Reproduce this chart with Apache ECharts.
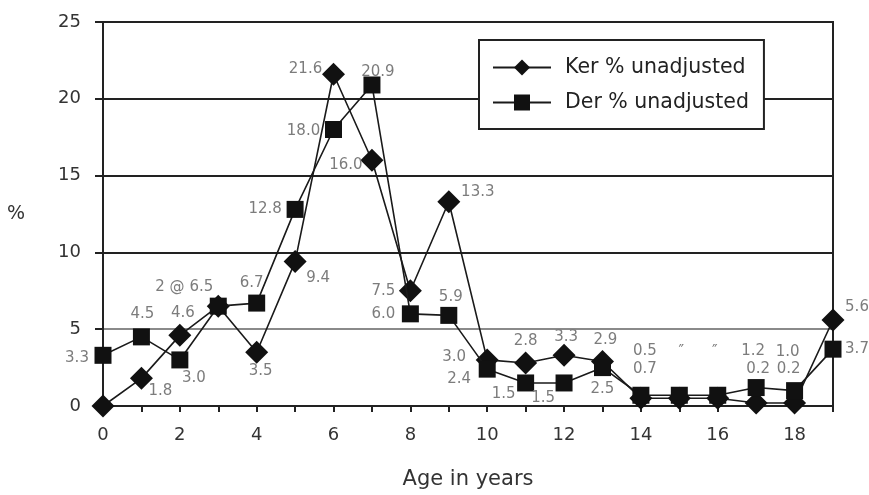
<!DOCTYPE html>
<html>
<head>
<meta charset="utf-8">
<script src="https://cdn.jsdelivr.net/npm/echarts@6/dist/echarts.min.js"></script>
<style>
html,body{margin:0;padding:0;background:#fff;}
#chart{width:869px;height:495px;}
</style>
</head>
<body>
<div id="chart"></div>
<script>
// ---- data ----
var ages = [0,1,2,3,4,5,6,7,8,9,10,11,12,13,14,15,16,17,18,19];
var kerValues = [0,1.8,4.6,6.5,3.5,9.4,21.6,16.0,7.5,13.3,3.0,2.8,3.3,2.9,0.5,0.5,0.5,0.2,0.2,5.6];
var derValues = [3.3,4.5,3.0,6.5,6.7,12.8,18.0,20.9,6.0,5.9,2.4,1.5,1.5,2.5,0.7,0.7,0.7,1.2,1.0,3.7];
var kerLabels = ['','1.8','4.6','','3.5','9.4','21.6','16.0','7.5','13.3','3.0','2.8','3.3','2.9','0.5','\u2033','\u2033','0.2','0.2','5.6'];
var derLabels = ['3.3','4.5','3.0','2 @ 6.5','6.7','12.8','18.0','20.9','6.0','5.9','2.4','1.5','1.5','2.5','0.7','','','1.2','1.0','3.7'];
var xTickLabels = ['0','2','4','6','8','10','12','14','16','18'];
var yTickLabels = ['0','5','10','15','20','25'];
var seriesNames = ['Ker % unadjusted','Der % unadjusted'];

// ---- label placement (style only) ----
var kerOffsets = [[0,0],[19,13],[3,-22],[0,0],[4,19],[23,16],[-28,-5],[-26,5],[-27,0],[29,-10],
  [-33,-3],[0,-22],[2,-18],[3,-21],[4,-47],[2,-46],[-3,-46],[2,-34],[-6,-34],[24,-13]];
var derOffsets = [[-26,3],[1,-23],[14,18],[-34,-19],[-5,-20],[-30,0],[-30,2],[6,-13],[-27,0],[2,-18],
  [-28,10],[-22,11],[-21,15],[0,22],[4,-26],[0,0],[0,0],[-3,-36],[-7,-39],[24,0]];

var FONT = 'DejaVu Sans';
var labelColor = '#7c7c7c';

function build(values, labels, offsets){
  return ages.map(function(a, i){
    return {
      value: [a, values[i]],
      label: {
        show: labels[i] !== '',
        position: 'inside',
        offset: offsets[i],
        formatter: labels[i],
        color: labelColor,
        fontSize: 15,
        fontFamily: FONT
      }
    };
  });
}

var chart = echarts.init(document.getElementById('chart'), null, {renderer:'canvas'});
chart.setOption({
  animation: false,
  backgroundColor: '#fff',
  grid: {left: 103, right: 36, top: 22, bottom: 85, show: true, borderColor: '#222', borderWidth: 2, backgroundColor: 'transparent'},
  legend: {
    left: 479, top: 40,
    orient: 'vertical',
    data: seriesNames,
    itemWidth: 58, itemHeight: 20, itemGap: 14,
    padding: [17, 15, 16, 13],
    borderColor: '#222', borderWidth: 2,
    backgroundColor: '#fff',
    textStyle: {fontFamily: FONT, fontSize: 20.5, color: '#222', padding: [0, 0, 0, 9]}
  },
  xAxis: {
    type: 'value', min: 0, max: 19, interval: 1,
    name: 'Age in years', nameLocation: 'middle', nameGap: 63,
    nameTextStyle: {fontFamily: FONT, fontSize: 21, color: '#333'},
    axisLine: {show: true, lineStyle: {color: '#222', width: 2}},
    axisTick: {show: true, inside: false, length: 6, lineStyle: {color: '#222', width: 2}},
    axisLabel: {
      margin: 20, fontFamily: FONT, fontSize: 18, color: '#333',
      formatter: function(v){ var s = String(v); return xTickLabels.indexOf(s) >= 0 ? s : ''; }
    },
    splitLine: {show: false}
  },
  yAxis: {
    type: 'value', min: 0, max: 25, interval: 5,
    name: '%', nameLocation: 'middle', nameGap: 78, nameRotate: 0,
    nameTextStyle: {fontFamily: FONT, fontSize: 19, color: '#333'},
    axisLine: {show: true, lineStyle: {color: '#222', width: 2}},
    axisTick: {show: true, length: 8, lineStyle: {color: '#222', width: 2}},
    axisLabel: {
      margin: 22, fontFamily: FONT, fontSize: 18, color: '#333',
      formatter: function(v){ var s = String(v); return yTickLabels.indexOf(s) >= 0 ? s : ''; }
    },
    splitLine: {show: true, lineStyle: {color: ['#222','#8a8a8a','#222','#222','#222','#222'], width: 2}}
  },
  series: [
    {
      name: seriesNames[0], type: 'line',
      data: build(kerValues, kerLabels, kerOffsets),
      symbol: 'diamond', symbolSize: 23,
      lineStyle: {color: '#1a1a1a', width: 1.6},
      itemStyle: {color: '#111'},
      z: 3
    },
    {
      name: seriesNames[1], type: 'line',
      data: build(derValues, derLabels, derOffsets),
      symbol: 'rect', symbolSize: 17,
      lineStyle: {color: '#1a1a1a', width: 1.6},
      itemStyle: {color: '#111'},
      z: 4
    }
  ]
});
</script>
</body>
</html>
